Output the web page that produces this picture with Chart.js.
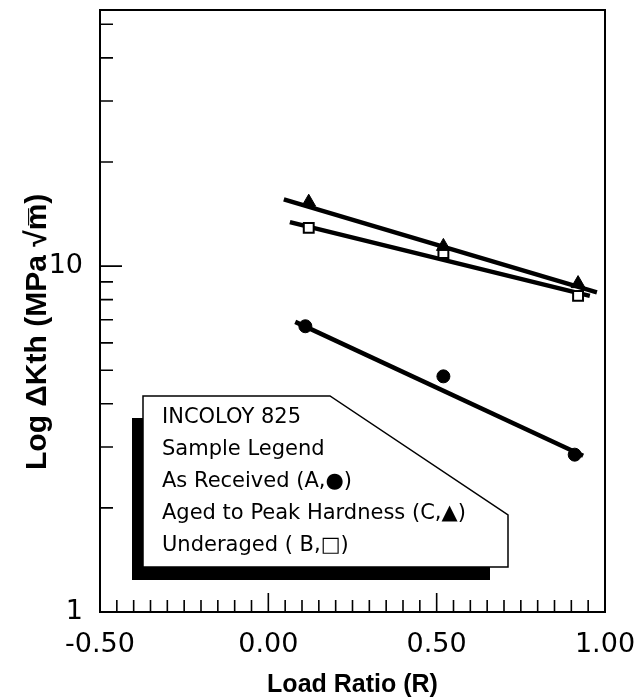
<!DOCTYPE html>
<html>
<head>
<meta charset="utf-8">
<script src="https://cdn.jsdelivr.net/npm/chart.js@4.4.0/dist/chart.umd.min.js"></script>
<style>
    html, body { margin: 0; padding: 0; background: #fff; }
    #wrap { width: 634px; height: 700px; }
</style>
</head>
<body>
<div id="wrap"><canvas id="thresholdChart" width="634" height="700"></canvas></div>
<script>
// ===== DATA =====
// As received (A)
const ratioA = [0.11, 0.52, 0.91];
const deltaKA = [6.7, 4.8, 2.85];
// Aged to peak hardness (C)
const ratioC = [0.12, 0.52, 0.92];
const deltaKC = [15.3, 11.4, 8.9];
// Underaged (B)
const ratioB = [0.12, 0.52, 0.92];
const deltaKB = [12.9, 10.9, 8.2];

// straight fit lines, ends as drawn
const fitRatioA = [0.08, 0.935];
const fitDeltaKA = [6.9, 2.83];
const fitRatioC = [0.046, 0.976];
const fitDeltaKC = [15.6, 8.4];
const fitRatioB = [0.064, 0.955];
const fitDeltaKB = [13.4, 8.2];

const xTickLabels = [-0.5, 0, 0.5, 1.0];
const yTickLabels = [1, 10];
const legendLines = [
    'INCOLOY 825',
    'Sample Legend',
    'As Received (A,\u25CF)',
    'Aged to Peak Hardness (C,\u25B2)',
    'Underaged ( B,\u25A1)'
];

const toPoints = (xs, ys) => xs.map((x, i) => ({ x: x, y: ys[i] }));
const isLabelledX = v => xTickLabels.some(t => Math.abs(t - v) < 1e-9);

// Frame, inward tick marks and the boxed legend
const frameAndLegend = {
    id: 'frameAndLegend',
    afterDraw(chart) {
        const { ctx, chartArea: a } = chart;
        const x = chart.scales.x;
        const y = chart.scales.y;
        ctx.save();
        ctx.strokeStyle = '#000';
        ctx.lineWidth = 2;
        ctx.strokeRect(a.left, a.top, a.right - a.left, a.bottom - a.top);

        ctx.lineWidth = 1.6;
        ctx.beginPath();
        x.ticks.forEach(t => {
            if (t.value <= x.min + 1e-9 || t.value >= x.max - 1e-9) return;
            const px = x.getPixelForValue(t.value);
            const len = isLabelledX(t.value) ? 19 : 12;
            ctx.moveTo(px, a.bottom);
            ctx.lineTo(px, a.bottom - len);
        });
        y.ticks.forEach(t => {
            const v = t.value;
            if (v <= y.min || v >= y.max) return;
            const mant = v / Math.pow(10, Math.floor(Math.log10(v) + 1e-9));
            if (Math.abs(mant - Math.round(mant)) > 1e-6) return;
            const py = y.getPixelForValue(v);
            const len = Math.abs(mant - 1) < 1e-6 ? 22 : 13;
            ctx.moveTo(a.left, py);
            ctx.lineTo(a.left + len, py);
        });
        ctx.stroke();

        // legend card: heavy shadow on the left and bottom only
        ctx.fillStyle = '#000';
        ctx.fillRect(132, 418, 12, 162);
        ctx.fillRect(132, 566, 358, 14);
        ctx.beginPath();
        ctx.moveTo(143, 396);
        ctx.lineTo(330, 396);
        ctx.lineTo(508, 515);
        ctx.lineTo(508, 567);
        ctx.lineTo(143, 567);
        ctx.closePath();
        ctx.fillStyle = '#fff';
        ctx.fill();
        ctx.lineWidth = 1.5;
        ctx.stroke();

        ctx.fillStyle = '#000';
        ctx.font = '21px "DejaVu Sans"';
        ctx.textBaseline = 'alphabetic';
        ctx.textAlign = 'left';
        legendLines.forEach((line, i) => ctx.fillText(line, 162, 423 + i * 32));
        ctx.restore();
    }
};

const tickFont = { family: 'DejaVu Sans', size: 27 };

new Chart(document.getElementById('thresholdChart'), {
    type: 'scatter',
    data: {
        datasets: [
            { label: 'A', data: toPoints(ratioA, deltaKA), pointStyle: 'circle', pointRadius: 6.5,
              backgroundColor: '#000', borderColor: '#000', order: 0 },
            { label: 'C', data: toPoints(ratioC, deltaKC), pointStyle: 'triangle', pointRadius: 8,
              backgroundColor: '#000', borderColor: '#000', order: 0 },
            { label: 'B', data: toPoints(ratioB, deltaKB), pointStyle: 'rect', pointRadius: 7,
              backgroundColor: '#fff', borderColor: '#000', borderWidth: 2, order: 0 },
            { label: 'fit A', data: toPoints(fitRatioA, fitDeltaKA), showLine: true, pointRadius: 0,
              borderColor: '#000', borderWidth: 4.5, order: 1 },
            { label: 'fit C', data: toPoints(fitRatioC, fitDeltaKC), showLine: true, pointRadius: 0,
              borderColor: '#000', borderWidth: 4.5, order: 1 },
            { label: 'fit B', data: toPoints(fitRatioB, fitDeltaKB), showLine: true, pointRadius: 0,
              borderColor: '#000', borderWidth: 4.5, order: 1 }
        ]
    },
    options: {
        responsive: false,
        animation: false,
        devicePixelRatio: 1,
        layout: { padding: { top: 10, right: 29, left: 0, bottom: 0 } },
        plugins: {
            legend: { display: false },
            tooltip: { enabled: false }
        },
        scales: {
            x: {
                type: 'linear',
                min: -0.5,
                max: 1.0,
                afterFit(scale) {
                    scale.height = 88;
                    scale.paddingLeft = 0;
                    scale.paddingRight = 0;
                },
                grid: { display: false },
                border: { display: false },
                ticks: {
                    stepSize: 0.05,
                    autoSkip: false,
                    maxRotation: 0,
                    padding: 9,
                    color: '#000',
                    font: tickFont,
                    callback: v => isLabelledX(v) ? v.toFixed(2) : ''
                },
                title: {
                    display: true,
                    text: 'Load Ratio (R)',
                    color: '#000',
                    font: { family: 'Liberation Sans', size: 25, weight: 'bold' },
                    padding: { top: 0, bottom: 0 }
                }
            },
            y: {
                type: 'logarithmic',
                min: 1,
                max: 55,
                afterFit(scale) {
                    scale.width = 100;
                    scale.paddingTop = 0;
                    scale.paddingBottom = 0;
                },
                grid: { display: false },
                border: { display: false },
                ticks: {
                    autoSkip: false,
                    padding: 9,
                    color: '#000',
                    font: tickFont,
                    callback: v => yTickLabels.includes(v) ? String(v) : ''
                },
                title: {
                    display: true,
                    text: 'Log \u0394Kth (MPa \u221Am\u0305)     ',
                    color: '#000',
                    font: { family: 'Liberation Sans', size: 30, weight: 'bold' },
                    padding: { top: 20, bottom: 0 }
                }
            }
        }
    },
    plugins: [frameAndLegend]
});
</script>
</body>
</html>
